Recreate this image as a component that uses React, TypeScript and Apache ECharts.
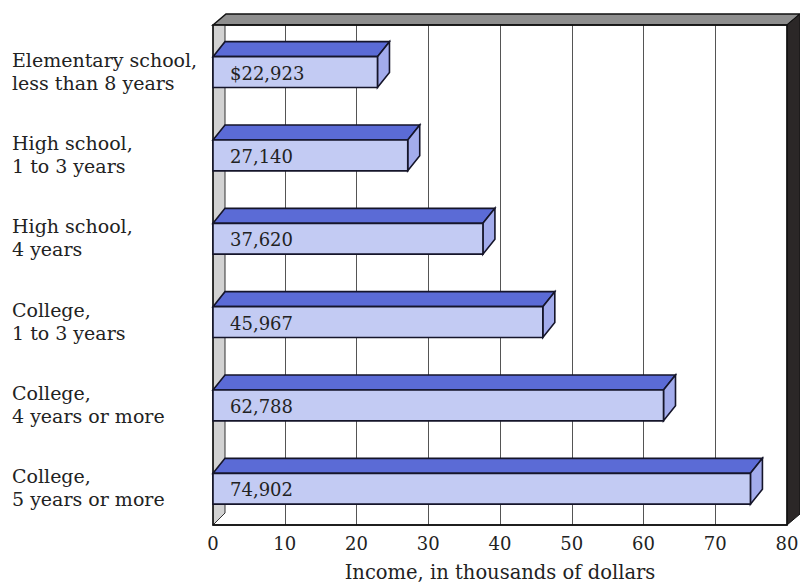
import React, { useEffect, useRef } from "react";
import * as echarts from "echarts";

const categories = [
  "Elementary school,\nless than 8 years",
  "High school,\n1 to 3 years",
  "High school,\n4 years",
  "College,\n1 to 3 years",
  "College,\n4 years or more",
  "College,\n5 years or more",
];
const incomes = [22.923, 27.14, 37.62, 45.967, 62.788, 74.902];
const valueLabels = ["$22,923", "27,140", "37,620", "45,967", "62,788", "74,902"];
const xTicks = [0, 10, 20, 30, 40, 50, 60, 70, 80];
const axisTitle = "Income, in thousands of dollars";

const FONT = "DejaVu Serif";
const L = 213, R = 787, T = 25, B = 525, DX = 13, DY = 11;

export default function App() {
  const ref = useRef<HTMLDivElement>(null);
  useEffect(() => {
    const chart = echarts.init(ref.current!, null, { renderer: "svg" });
    const option: any = {
      animation: false,
      backgroundColor: "#ffffff",
      grid: { left: L, right: 800 - R, top: T, bottom: 582 - B, outerBoundsMode: "none", containLabel: false },
      xAxis: {
        type: "value",
        min: xTicks[0],
        max: xTicks[xTicks.length - 1],
        interval: 10,
        name: axisTitle,
        nameLocation: "middle",
        nameGap: 37,
        nameTextStyle: { fontFamily: FONT, fontSize: 19.5, color: "#222" },
        axisLine: { show: true, lineStyle: { color: "#111", width: 1.5 } },
        axisTick: { show: false },
        axisLabel: { fontFamily: FONT, fontSize: 18, color: "#222", margin: 9 },
        splitLine: { show: true, lineStyle: { color: "#555", width: 1 } },
      },
      yAxis: {
        type: "category",
        inverse: true,
        data: categories,
        axisLine: { show: false },
        axisTick: { show: false },
        splitLine: { show: false },
        axisLabel: {
          align: "left",
          margin: L - 12,
          verticalAlign: "middle",
          formatter: (v: string) =>
            "{s| }\n" + v.split("\n").map((line) => "{a|" + line + "}").join("\n"),
          rich: {
            s: { fontSize: 1, lineHeight: 9 },
            a: { fontFamily: FONT, fontSize: 19, lineHeight: 23, color: "#222" },
          },
        },
      },
      graphic: [
        {
          type: "polygon",
          z: 1,
          shape: { points: [[L, T], [L + DX, T - DY], [R + DX, T - DY], [R, T]] },
          style: { fill: "#8e8e8e", stroke: "#111", lineWidth: 1.5 },
        },
        {
          type: "polygon",
          z: 1,
          shape: { points: [[L, T], [L + 12, T], [L + 12, B - 12], [L, B]] },
          style: { fill: "#d2d2d2", stroke: "#333", lineWidth: 1 },
        },
        {
          type: "polygon",
          z: 1,
          shape: { points: [[R, T], [R + DX, T - DY], [R + DX, B - DY], [R, B]] },
          style: { fill: "#2b2727", stroke: "#111", lineWidth: 1 },
        },
        {
          type: "rect",
          z: 1,
          shape: { x: L, y: T, width: R - L, height: B - T },
          style: { fill: "none", stroke: "#111", lineWidth: 1.5 },
        },
      ],
      series: [
        {
          type: "custom",
          z: 5,
          data: incomes.map((v, i) => [v, i]),
          encode: { x: 0, y: 1 },
          renderItem: (params: any, api: any) => {
            const v = api.value(0);
            const c = api.value(1);
            const s = api.coord([0, c]);
            const e = api.coord([v, c]);
            const bw = api.size([0, 1])[1];
            const x0 = s[0];
            const x1 = e[0];
            const top = s[1] - bw * 0.12;
            const bot = s[1] + bw * 0.25;
            const dx = 12, dy = 15;
            const stroke = "#15152a";
            return {
              type: "group",
              children: [
                {
                  type: "polygon",
                  shape: { points: [[x0, top], [x0 + dx, top - dy], [x1 + dx, top - dy], [x1, top]] },
                  style: { fill: "#5b6bd6", stroke, lineWidth: 1.6 },
                },
                {
                  type: "polygon",
                  shape: { points: [[x1, top], [x1 + dx, top - dy], [x1 + dx, bot - dy], [x1, bot]] },
                  style: { fill: "#a3acec", stroke, lineWidth: 1.6 },
                },
                {
                  type: "rect",
                  shape: { x: x0, y: top, width: x1 - x0, height: bot - top },
                  style: { fill: "#c3cbf3", stroke, lineWidth: 1.6 },
                },
                {
                  type: "text",
                  style: {
                    text: valueLabels[params.dataIndex],
                    x: x0 + 17,
                    y: (top + bot) / 2 + 1,
                    fontFamily: FONT,
                    fontSize: 18,
                    fill: "#222",
                    textAlign: "left",
                    textVerticalAlign: "middle",
                  },
                },
              ],
            };
          },
        },
      ],
    };
    chart.setOption(option);
    return () => chart.dispose();
  }, []);
  return <div ref={ref} style={{ position: "fixed", left: 0, top: 0, width: 800, height: 582 }} />;
}
